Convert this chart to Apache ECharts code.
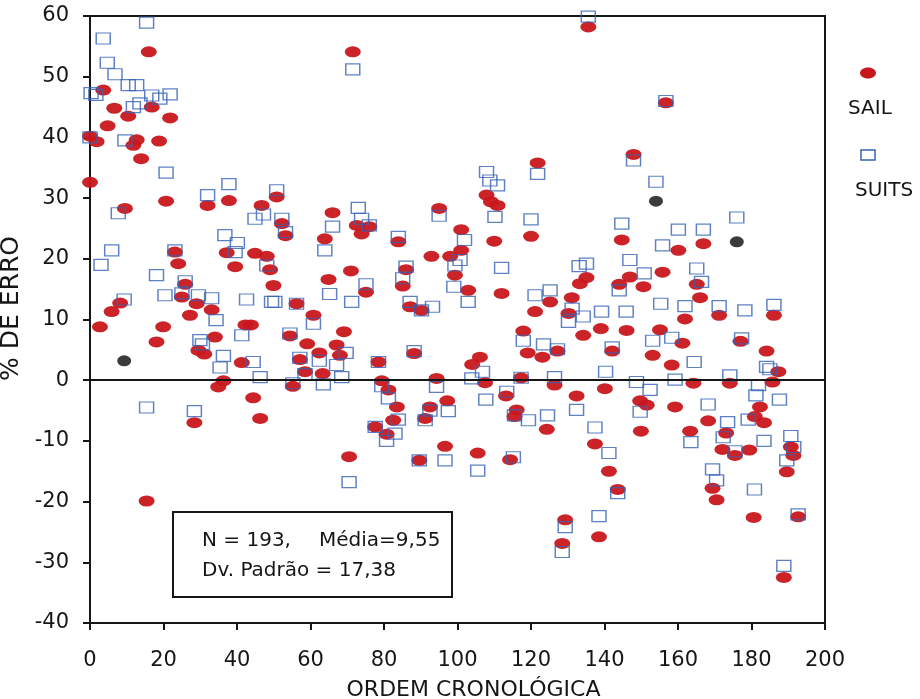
<!DOCTYPE html>
<html>
<head>
<meta charset="utf-8">
<script src="https://cdn.jsdelivr.net/npm/echarts@6/dist/echarts.min.js"></script>
<style>
  html, body { margin: 0; padding: 0; background: #fff; }
  #chart { width: 920px; height: 699px; }
</style>
</head>
<body>
<div id="chart"></div>
<script>
// % de erro por ordem cronológica: SAIL (elipses) e SUITS (quadrados)
const sailX = [16,3.6,16.8,6.6,10.4,21.8,4.8,0,1.8,12.7,11.8,18.8,13.9,0,32,37.8,20.7,9.5,46.7,37.2,39.5,44.9,48.1,49,23.1,24,25.9,25,29,33.1,27.2,8.2,5.9,2.7,19.9,18.1,34,29.5,31.1,42.3,43.8,41.3,36.3,34.9,44.4,46.3,28.4,15.4,49.9,
  71.5,50.8,52.2,53.2,66,72.6,73.9,76,63.9,83.9,95,92.9,98,99.3,86,85.1,71,64.9,75.1,56.2,60.8,87.1,90.2,101,54.4,69.1,59.1,67.1,68,57.1,62.4,58.5,63.3,55.2,78.5,88.2,79.4,81.2,83.5,82.5,77.6,80.7,94.3,92.5,91.2,97.2,96.6,89.6,70.5,
  135.6,121.8,147.9,107.9,109.1,110.9,120,110,101,102.9,112,121.1,125.2,131.1,130.2,133.3,135.1,144.7,146.9,144,150.6,117.9,134.2,139,146,119.1,123.1,127.2,142.1,106.1,104,107.5,117.3,126.4,140.1,132.4,113.2,116.1,115.5,124.3,137.4,141.2,143.6,149.7,149.9,105.5,114.3,129.3,128.5,138.5,
  156.7,166.9,160.1,155.8,165.1,166,161.9,171.2,186.1,155.1,161.2,153.1,158.3,184.1,177,187.3,185.7,174.1,164.2,151.5,159.2,168.2,182.3,180.9,183.4,173.1,172.1,175.5,179.4,163.3,190.7,191.4,189.6,169.4,170.5,180.6,192.7,188.8];
const sailY = [54.1,47.8,45,44.8,43.5,43.2,41.9,40.2,39.3,39.6,38.7,39.4,36.5,32.6,28.8,29.6,29.5,28.3,28.8,21,18.7,20.9,20.4,18.2,21.1,19.2,15.8,13.7,12.6,11.6,10.7,12.7,11.3,8.8,8.8,6.3,7.1,4.9,4.3,9.1,9.1,2.9,-0.1,-1.1,-2.9,-6.3,-7,-19.9,15.6,
  54.1,30.2,25.8,23.8,27.6,25.5,24.1,25.3,23.3,22.8,28.3,20.4,20.4,17.3,18.2,15.5,18,16.6,14.5,12.6,10.7,12.1,11.5,24.8,7.3,8,6,5.8,4.1,3.4,4.5,1.4,1.1,-1,3,4.4,-0.1,-1.6,-4.4,-6.6,-7.7,-8.9,0.3,-4.4,-6.3,-3.4,-10.9,-13.2,-12.6,
  58.2,35.8,37.2,30.5,29.4,28.8,23.7,22.9,21.4,14.8,14.3,11.3,12.9,13.6,11,15.9,16.9,23.1,17,15.8,15.4,8.1,7.4,8.5,8.2,4.5,3.8,4.8,4.8,3.8,2.6,-0.4,0.4,-0.8,-1.4,-2.6,-2.6,-4.9,-6,-8.1,-10.5,-15,-18,-3.4,-8.4,-12,-13.1,-23,-26.9,-25.8,
  45.7,22.5,21.4,17.8,15.8,13.6,10.1,10.7,10.7,8.3,6.1,4.1,2.5,4.8,6.4,1.4,-0.3,-0.5,-0.5,-4.1,-4.4,-6.7,-4.4,-6,-7,-8.7,-11.4,-12.4,-11.5,-8.4,-11,-12.4,-15.1,-17.8,-19.7,-22.6,-22.5,-32.5];

const suitsX = [15.4,3.6,4.7,6.8,10.4,12.7,0.3,1.6,16.8,21.8,19,11.8,13.6,9.5,0,20.7,37.8,32,7.7,44.9,47.2,5.9,3,23.1,36.7,40.1,39.5,48.1,18.1,20.4,25,25.9,29.5,33.1,34.3,9.3,42.6,49.4,29.9,30.6,41.3,36.3,35.4,44.4,46.3,15.4,28.4,
  71.5,50.8,52.2,53.2,66,73,73.9,76,63.9,83.9,95,99.3,86,85.1,65.2,75.1,71.2,50.3,56.2,87.1,90.2,93.2,100.7,99,60.8,54.4,69.7,57.1,62.4,58.5,67.1,68.5,63.5,55.2,78.5,88.2,79.4,81.2,83.9,77.6,80.7,83,94.3,92.5,91.2,97.5,96.6,89.6,70.5,
  135.6,121.8,147.9,107.9,108.8,110.9,110.2,120,101.9,102.9,112,121.1,125.2,131.2,134.2,139.2,145.9,133.1,135.1,144.7,146.9,144,150.8,130.2,117.9,123.4,127.2,142.1,106.8,103.9,117.3,126.4,140.3,148.7,132.4,113.4,107.7,115.5,119.3,124.5,137.4,141.2,143.6,149.7,105.5,115.2,129.3,128.5,138.5,
  156.7,154,176,160.1,166.9,155.8,165.1,166.4,155.3,161.9,171.2,178.2,186.1,153.1,158.3,164.4,177.3,184.1,185,174.1,159.2,152.4,168.2,181.9,181.2,187.6,179.1,173.5,172.3,175.5,183.4,163.5,190.7,191.5,189.6,169.4,170.5,180.8,192.7,188.8];
const suitsY = [58.9,56.3,52.3,50.4,48.6,48.6,47.3,47,46.9,47.1,46.4,45,45.6,39.5,40,34.2,32.3,30.5,27.5,26.6,27.3,21.4,19,21.4,23.9,22.6,21.1,18.9,17.3,14,14.3,16.3,14,13.5,9.9,13.3,13.3,12.9,6.6,5.9,7.4,4,2.1,3,0.5,-4.5,-5.1,
  51.2,31.3,26.6,24.4,25.3,28.4,26.6,25.5,21.4,23.6,27.1,18.9,18.7,16.8,14.2,15.8,12.9,12.9,12.6,12.9,11.5,12.1,19.8,15.4,9.3,7.7,4.5,3.7,3.2,1,2.5,0.5,-0.7,-0.5,3,4.8,-1,-3,-6.5,-7.7,-10,-8.8,-1.1,-5,-6.6,-5.1,-13.2,-13.2,-16.8,
  59.9,34,36.2,34.3,32.9,32.1,26.9,26.5,23.1,12.9,18.5,14,14.8,11.8,10.5,11.3,11.3,18.8,19.2,25.8,19.8,14.8,17.6,9.6,6.5,5.9,5.1,5.4,1.4,0.3,0.4,0.5,1.4,-0.3,-4.9,-1.9,-3.2,-5.8,-6.6,-5.8,-7.8,-12,-18.6,-5.2,-14.9,-12.7,-24.2,-28.3,-22.4,
  46,32.7,26.8,24.8,24.8,22.2,18.4,16.2,12.6,12.2,12.2,11.5,12.4,6.5,7,3,6.9,2.2,1.8,0.8,0.1,-1.6,-4,-0.8,-2.5,-3.2,-6.5,-6.9,-9.4,-11.7,-10,-10.2,-9.2,-11,-13.2,-14.7,-16.5,-18,-22.1,-30.6];

// pontos assinalados a preto
const extraX = [9.3, 154, 176];
const extraY = [3.2, 29.5, 22.8];

const yMin = -40, yMax = 60, yStep = 10;
const xMin = 0, xMax = 200, xStep = 20;

const zip = (xs, ys) => xs.map((x, i) => [x, ys[i]]);

const FONT = 'DejaVu Sans';
const INK = '#161616';
const RED = '#c8171c';
const BLUE = '#3561b5';

const chart = echarts.init(document.getElementById('chart'), null, { renderer: 'canvas' });

chart.setOption({
  animation: false,
  backgroundColor: '#ffffff',
  grid: {
    left: 90, top: 16, width: 735, height: 607,
    containLabel: false, outerBoundsMode: 'none',
    show: true, borderColor: INK, borderWidth: 2, backgroundColor: 'transparent'
  },
  xAxis: {
    type: 'value', min: xMin, max: xMax, interval: xStep,
    name: 'ORDEM CRONOLÓGICA', nameLocation: 'middle', nameGap: 56,
    nameTextStyle: { fontFamily: FONT, fontSize: 22, color: INK, padding: [0, 0, 0, 32] },
    axisLine: { show: true, onZero: false, lineStyle: { color: INK, width: 2 } },
    axisTick: { show: true, inside: false, length: 7, lineStyle: { color: INK, width: 2 } },
    axisLabel: { fontFamily: FONT, fontSize: 21, color: INK, margin: 27 },
    splitLine: { show: false }
  },
  yAxis: {
    type: 'value', min: yMin, max: yMax, interval: yStep,
    name: '% DE ERRO', nameLocation: 'middle', nameGap: 57,
    nameTextStyle: { fontFamily: FONT, fontSize: 25, color: INK, padding: [0, 0, 0, 22] },
    axisLine: { show: true, onZero: false, lineStyle: { color: INK, width: 2 } },
    axisTick: { show: true, inside: false, length: 7, lineStyle: { color: INK, width: 2 } },
    axisLabel: { fontFamily: FONT, fontSize: 21, color: INK, margin: 21 },
    splitLine: { show: false }
  },
  series: [
    {
      name: 'SAIL', type: 'scatter', symbol: 'circle', symbolSize: [16, 11],
      itemStyle: { color: RED, opacity: 0.95 },
      data: zip(sailX, sailY),
      z: 2,
      markLine: {
        silent: true, symbol: 'none', label: { show: false },
        lineStyle: { color: INK, width: 2, type: 'solid' },
        data: [{ yAxis: 0 }]
      }
    },
    {
      name: 'SUITS', type: 'scatter', symbol: 'rect', symbolSize: [14, 11],
      itemStyle: { color: 'rgba(255,255,255,0)', borderColor: BLUE, borderWidth: 1.3 },
      data: zip(suitsX, suitsY),
      z: 3
    },
    {
      name: 'destaque', type: 'scatter', symbol: 'circle', symbolSize: [14, 11],
      itemStyle: { color: '#0a0a0a' },
      data: zip(extraX, extraY),
      z: 4
    }
  ],
  graphic: [
    // legenda
    { type: 'ellipse', shape: { cx: 868, cy: 73, rx: 8, ry: 5.5 }, style: { fill: RED } },
    { type: 'text', left: 848, top: 99, style: { text: 'SAIL', font: '20px "DejaVu Sans"', fill: INK } },
    { type: 'rect', shape: { x: 861, y: 150, width: 14, height: 10 }, style: { fill: 'none', stroke: BLUE, lineWidth: 1.5 } },
    { type: 'text', left: 855, top: 181, style: { text: 'SUITS', font: '20px "DejaVu Sans"', fill: INK } },
    // caixa de estatísticas
    { type: 'rect', shape: { x: 173, y: 512, width: 279, height: 85 }, style: { fill: '#fff', stroke: INK, lineWidth: 2 }, z: 10 },
    { type: 'text', left: 202, top: 531, z: 11, style: { text: 'N = 193,', font: '20px "DejaVu Sans"', fill: INK } },
    { type: 'text', left: 319, top: 531, z: 11, style: { text: 'Média=9,55', font: '20px "DejaVu Sans"', fill: INK } },
    { type: 'text', left: 202, top: 561, z: 11, style: { text: 'Dv. Padrão = 17,38', font: '20px "DejaVu Sans"', fill: INK } }
  ]
});
</script>
</body>
</html>
